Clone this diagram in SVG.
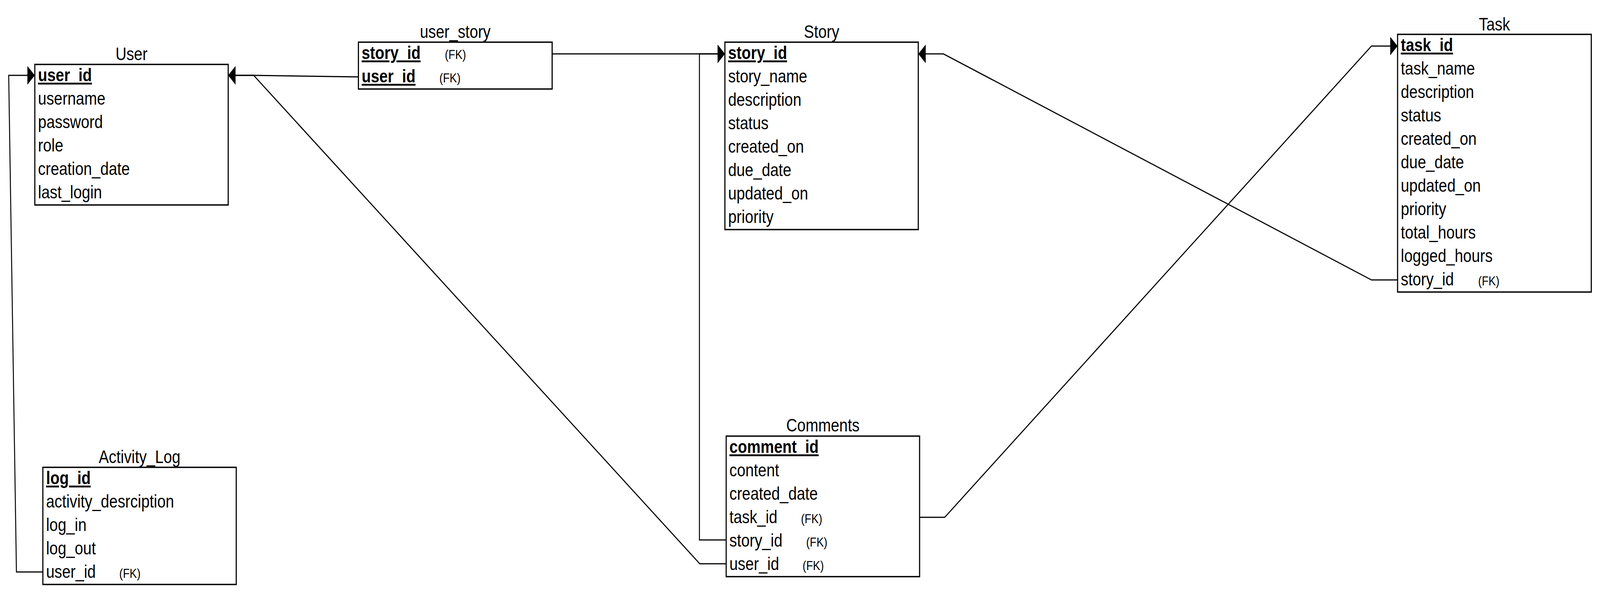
<svg xmlns="http://www.w3.org/2000/svg" width="4964" height="1524" viewBox="0 0 4964 1524" style="width:100%;height:100%" preserveAspectRatio="none">
<style>
  .box { fill: #ffffff; stroke: #000000; stroke-width: 3.5; }
  .title { font-family: "Liberation Sans", Arial, sans-serif; font-size: 47px; fill: #000; text-anchor: middle; }
  .f { font-family: "Liberation Sans", Arial, sans-serif; font-size: 47px; fill: #000; }
  .pk { font-weight: bold; text-decoration: underline; text-decoration-skip-ink: none; }
  .fk { font-size: 34px; font-weight: normal; text-decoration: none; }
  .conn path { fill: none; stroke: #000000; stroke-width: 3; stroke-linejoin: miter; }
</style>
<defs>
  <marker id="arr" markerUnits="userSpaceOnUse" markerWidth="24" markerHeight="48" refX="23" refY="24" orient="auto" viewBox="0 0 24 48">
    <path d="M0,0 L23,24 L0,48 Z" fill="#000000" stroke="none"/>
  </marker>
</defs>
<rect x="0" y="0" width="4964" height="1524" fill="#ffffff"/>

<g id="connectors" class="conn">
  <path id="c-activity-user" d="M133,1465 L51,1465 L27,193 L108,193" marker-end="url(#arr)"/>
  <path id="c-userstory-user" d="M1112,197 L787,193 L708,193" marker-end="url(#arr)"/>
  <path id="c-comments-user" d="M2253,1444 L2171,1444 L787,193 L708,193" marker-end="url(#arr)"/>
  <path id="c-userstory-story" d="M1713,138 L2249,138" marker-end="url(#arr)"/>
  <path id="c-comments-story" d="M2253,1383 L2170,1383 L2170,138 L2249,138" marker-end="url(#arr)"/>
  <path id="c-task-story" d="M4336,717 L4255,717 L2927,138 L2849,138" marker-end="url(#arr)"/>
  <path id="c-comments-task" d="M2853,1325 L2931,1325 L4255,118 L4336,118" marker-end="url(#arr)"/>
</g>

<g id="User">
  <text class="title" x="408" y="154">User</text>
  <rect class="box" x="108" y="165" width="600" height="360"/>
  <text class="f pk" x="118" y="208.5">user_id</text>
  <text class="f" x="118" y="268.5">username</text>
  <text class="f" x="118" y="328.5">password</text>
  <text class="f" x="118" y="388.5">role</text>
  <text class="f" x="118" y="448.5">creation_date</text>
  <text class="f" x="118" y="508.5">last_login</text>
</g>

<g id="user_story">
  <text class="title" x="1412.5" y="97">user_story</text>
  <rect class="box" x="1112" y="108" width="601" height="120"/>
  <text class="f" x="1122" y="151.5"><tspan class="pk">story_id</tspan><tspan class="fk" x="1380">(FK)</tspan></text>
  <text class="f" x="1122" y="211.5"><tspan class="pk">user_id</tspan><tspan class="fk" x="1363">(FK)</tspan></text>
</g>

<g id="Story">
  <text class="title" x="2549" y="97">Story</text>
  <rect class="box" x="2249" y="108" width="600" height="480"/>
  <text class="f pk" x="2259" y="151.5">story_id</text>
  <text class="f" x="2259" y="211.5">story_name</text>
  <text class="f" x="2259" y="271.5">description</text>
  <text class="f" x="2259" y="331.5">status</text>
  <text class="f" x="2259" y="391.5">created_on</text>
  <text class="f" x="2259" y="451.5">due_date</text>
  <text class="f" x="2259" y="511.5">updated_on</text>
  <text class="f" x="2259" y="571.5">priority</text>
</g>

<g id="Task">
  <text class="title" x="4636.5" y="78">Task</text>
  <rect class="box" x="4336" y="88" width="601" height="660"/>
  <text class="f pk" x="4346" y="131.5">task_id</text>
  <text class="f" x="4346" y="191.5">task_name</text>
  <text class="f" x="4346" y="251.5">description</text>
  <text class="f" x="4346" y="311.5">status</text>
  <text class="f" x="4346" y="371.5">created_on</text>
  <text class="f" x="4346" y="431.5">due_date</text>
  <text class="f" x="4346" y="491.5">updated_on</text>
  <text class="f" x="4346" y="551.5">priority</text>
  <text class="f" x="4346" y="611.5">total_hours</text>
  <text class="f" x="4346" y="671.5">logged_hours</text>
  <text class="f" x="4346" y="731.5">story_id<tspan class="fk" x="4586">(FK)</tspan></text>
</g>

<g id="Comments">
  <text class="title" x="2553" y="1105">Comments</text>
  <rect class="box" x="2253" y="1117" width="600" height="360"/>
  <text class="f pk" x="2263" y="1160.5">comment_id</text>
  <text class="f" x="2263" y="1220.5">content</text>
  <text class="f" x="2263" y="1280.5">created_date</text>
  <text class="f" x="2263" y="1340.5">task_id<tspan class="fk" x="2485">(FK)</tspan></text>
  <text class="f" x="2263" y="1400.5">story_id<tspan class="fk" x="2501">(FK)</tspan></text>
  <text class="f" x="2263" y="1460.5">user_id<tspan class="fk" x="2490">(FK)</tspan></text>
</g>

<g id="Activity_Log">
  <text class="title" x="433" y="1186">Activity_Log</text>
  <rect class="box" x="133" y="1197" width="600" height="300"/>
  <text class="f pk" x="143" y="1240.5">log_id</text>
  <text class="f" x="143" y="1300.5">activity_desrciption</text>
  <text class="f" x="143" y="1360.5">log_in</text>
  <text class="f" x="143" y="1420.5">log_out</text>
  <text class="f" x="143" y="1480.5">user_id<tspan class="fk" x="370">(FK)</tspan></text>
</g>
</svg>
